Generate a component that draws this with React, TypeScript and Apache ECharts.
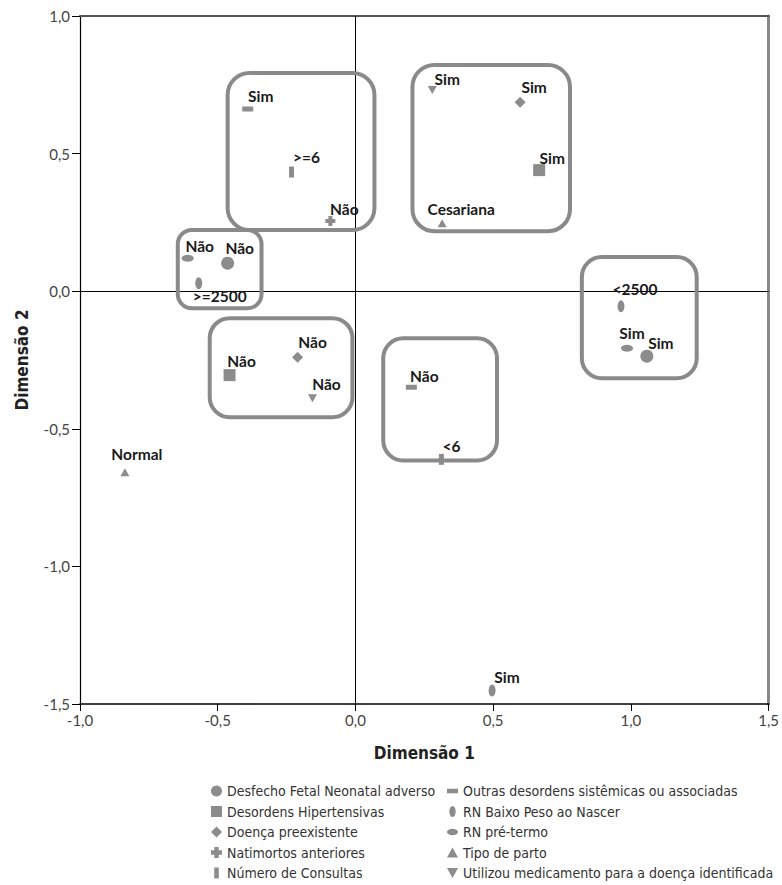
import React, { useEffect, useRef } from "react";
import * as echarts from "echarts";

// ---- data: [Dimensão 1, Dimensão 2, label] ----
const desfechoFetal: [number, number, string][] = [[-0.464, 0.102, "Não"], [1.058, -0.236, "Sim"]];
const desordensHipertensivas: [number, number, string][] = [[0.667, 0.44, "Sim"], [-0.457, -0.305, "Não"]];
const doencaPreexistente: [number, number, string][] = [[0.598, 0.687, "Sim"], [-0.21, -0.24, "Não"]];
const natimortos: [number, number, string][] = [[-0.091, 0.255, "Não"]];
const numeroConsultas: [number, number, string][] = [[-0.232, 0.433, ">=6"], [0.312, -0.611, "<6"]];
const outrasDesordens: [number, number, string][] = [[-0.391, 0.662, "Sim"], [0.203, -0.349, "Não"]];
const rnBaixoPeso: [number, number, string][] = [[-0.569, 0.029, ">=2500"], [0.964, -0.055, "<2500"], [0.496, -1.451, "Sim"]];
const rnPreTermo: [number, number, string][] = [[-0.609, 0.12, "Não"], [0.986, -0.207, "Sim"]];
const tipoParto: [number, number, string][] = [[0.315, 0.247, "Cesariana"], [-0.837, -0.658, "Normal"]];
const utilizouMedicamento: [number, number, string][] = [[0.279, 0.731, "Sim"], [-0.156, -0.389, "Não"]];

const seriesNames = [
  "Desfecho Fetal Neonatal adverso",
  "Desordens Hipertensivas",
  "Doença preexistente",
  "Natimortos anteriores",
  "Número de Consultas",
  "Outras desordens sistêmicas ou associadas",
  "RN Baixo Peso ao Nascer",
  "RN pré-termo",
  "Tipo de parto",
  "Utilizou medicamento para a doença identificada",
];
const seriesData = [
  desfechoFetal, desordensHipertensivas, doencaPreexistente, natimortos, numeroConsultas,
  outrasDesordens, rnBaixoPeso, rnPreTermo, tipoParto, utilizouMedicamento,
];

// groups outlined in the plot: [xMin, xMax, yMax, yMin] in data units
const groupBoxes: [number, number, number, number][] = [
  [-0.464, 0.069, 0.793, 0.222],
  [-0.645, -0.341, 0.222, -0.062],
  [0.207, 0.779, 0.822, 0.218],
  [0.822, 1.239, 0.124, -0.316],
  [-0.529, -0.011, -0.098, -0.458],
  [0.101, 0.514, -0.171, -0.615],
];

const xTicks = { min: -1.0, max: 1.5, interval: 0.5 };
const yTicks = { min: -1.5, max: 1.0, interval: 0.5 };

// ---- styling ----
const labelOffsets: [number, number][][] = [
  [[12, -15], [14, -13]],
  [[13, -12], [12, -14]],
  [[14, -15], [15, -15]],
  [[14, -12]],
  [[15, -15], [10, -13]],
  [[13, -13], [13, -11]],
  [[21, 13], [14, -17], [15, -14]],
  [[12, -12], [5, -15]],
  [[19, -14], [12, -18]],
  [[15, -11], [14, -14]],
];
const boxRadius = [22, 14, 22, 20, 20, 20];

const plusPath = "path://M3,0h4v3h3v4h-3v3h-4v-3h-3v-4h3z";
const symbols: { symbol: string; size: number | number[]; rotate?: number; icon: string }[] = [
  { symbol: "circle", size: 13, icon: "circle" },
  { symbol: "rect", size: 12, icon: "rect" },
  { symbol: "diamond", size: 11, icon: "diamond" },
  { symbol: plusPath, size: 10, icon: plusPath },
  { symbol: "rect", size: [5, 11], icon: "path://M0,0h5v12h-5z" },
  { symbol: "rect", size: [11, 5], icon: "path://M0,0h12v5h-12z" },
  { symbol: "circle", size: [7, 12], icon: "path://M4,0A4,7 0 1 1 4,14A4,7 0 1 1 4,0z" },
  { symbol: "circle", size: [12, 7], icon: "path://M0,4A7,4 0 1 1 14,4A7,4 0 1 1 0,4z" },
  { symbol: "triangle", size: [9, 8], icon: "path://M5,0l5,9h-10z" },
  { symbol: "triangle", size: [9, 8], rotate: 180, icon: "path://M0,0h10l-5,9z" },
];

const markerColor = "#8c8c8c";
const boxColor = "#8a8a8a";
const labelFont = "Lato, 'Open Sans', sans-serif";
const condensedFont = "'Liberation Sans Narrow', 'DejaVu Sans Condensed', 'Liberation Sans', sans-serif";

const fmt = (v: number) => v.toFixed(1).replace(".", ",");

export default function App() {
  const ref = useRef<HTMLDivElement>(null);
  useEffect(() => {
    if (!ref.current) return;
    const chart = echarts.init(ref.current, null, { renderer: "svg" });
    const grid = { left: 80, top: 16, width: 690, height: 688 };

    const series: any[] = seriesNames.map((name, i) => ({
      name,
      type: "scatter",
      symbol: symbols[i].symbol,
      symbolSize: symbols[i].size,
      symbolRotate: symbols[i].rotate || 0,
      itemStyle: { color: markerColor, opacity: 1 },
      z: 3,
      data: seriesData[i].map((d, j) => ({
        value: [d[0], d[1]],
        name: d[2],
        label: {
          show: true,
          position: "inside",
          offset: labelOffsets[i][j],
          formatter: "{b}",
          color: "#1a1a1a",
          fontFamily: labelFont,
          fontWeight: "bold",
          fontSize: 15.5,
        },
      })),
    }));
    series[0].markLine = {
      silent: true,
      symbol: ["none", "none"],
      label: { show: false },
      lineStyle: { color: "#000", width: 1, type: "solid" },
      data: [{ xAxis: 0 }, { yAxis: 0 }],
      z: 1,
    };

    const legendCommon = {
      orient: "vertical",
      top: 779,
      height: 104,
      itemWidth: 11,
      itemHeight: 11,
      itemGap: 6.5,
      symbolKeepAspect: true,
      textStyle: { fontFamily: condensedFont, fontSize: 14, color: "#333" },
      selectedMode: false,
    };

    chart.setOption({
      animation: false,
      grid,
      xAxis: [
        {
          type: "value",
          min: xTicks.min,
          max: xTicks.max,
          interval: xTicks.interval,
          position: "bottom",
          name: "Dimensão 1",
          nameLocation: "middle",
          nameGap: 40,
          nameTextStyle: { fontFamily: condensedFont, fontWeight: "bold", fontSize: 17, color: "#222" },
          axisLine: { onZero: false, lineStyle: { color: "#000", width: 1.5 } },
          axisTick: { show: true, inside: false, length: 7, lineStyle: { color: "#000" } },
          axisLabel: { formatter: fmt, fontFamily: labelFont, fontSize: 15, color: "#444", margin: 8 },
          splitLine: { show: false },
        },
        {
          type: "value",
          min: xTicks.min,
          max: xTicks.max,
          position: "top",
          axisLine: { onZero: false, lineStyle: { color: "#555", width: 2 } },
          axisTick: { show: false },
          axisLabel: { show: false },
          splitLine: { show: false },
        },
      ],
      yAxis: [
        {
          type: "value",
          min: yTicks.min,
          max: yTicks.max,
          interval: yTicks.interval,
          position: "left",
          name: "Dimensão 2",
          nameLocation: "middle",
          nameGap: 50,
          nameTextStyle: { fontFamily: condensedFont, fontWeight: "bold", fontSize: 17, color: "#222" },
          axisLine: { onZero: false, lineStyle: { color: "#000", width: 1.2 } },
          axisTick: { show: true, inside: false, length: 8, lineStyle: { color: "#000" } },
          axisLabel: { formatter: fmt, fontFamily: labelFont, fontSize: 15, color: "#444", margin: 10 },
          splitLine: { show: false },
        },
        {
          type: "value",
          min: yTicks.min,
          max: yTicks.max,
          position: "right",
          axisLine: { onZero: false, lineStyle: { color: "#888", width: 3 } },
          axisTick: { show: false },
          axisLabel: { show: false },
          splitLine: { show: false },
        },
      ],
      legend: [
        {
          ...legendCommon,
          left: 206,
          data: seriesNames.slice(0, 5).map((n, i) => ({ name: n, icon: symbols[i].icon, itemStyle: { color: markerColor } })),
        },
        {
          ...legendCommon,
          left: 442,
          data: seriesNames.slice(5).map((n, i) => ({ name: n, icon: symbols[i + 5].icon, itemStyle: { color: markerColor } })),
        },
      ],
      series,
    });

    const graphics = groupBoxes.map((b, k) => {
      const p1 = chart.convertToPixel({ gridIndex: 0 } as any, [b[0], b[2]]) as number[];
      const p2 = chart.convertToPixel({ gridIndex: 0 } as any, [b[1], b[3]]) as number[];
      return {
        type: "rect",
        silent: true,
        z: 5,
        shape: { x: p1[0], y: p1[1], width: p2[0] - p1[0], height: p2[1] - p1[1], r: boxRadius[k] },
        style: { fill: "none", stroke: boxColor, lineWidth: 4 },
      };
    });
    chart.setOption({ graphic: graphics });

    return () => chart.dispose();
  }, []);
  return <div ref={ref} style={{ width: 782, height: 885, position: "absolute", left: 0, top: 0 }} />;
}
